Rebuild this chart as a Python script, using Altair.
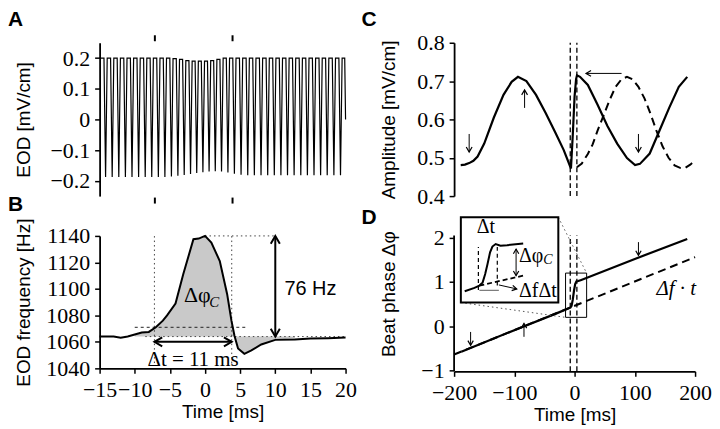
import altair as alt
import pandas as pd

SERIF = "Liberation Serif"
SANS = "Liberation Sans"

# ---------------- Panel A: EOD waveform (trough times in ms, trough / top values in mV/cm) ----------------
A_TROUGH_T = [-14.15, -13.21, -12.27, -11.33, -10.39, -9.45, -8.51, -7.58, -6.64, -5.71,
              -4.78, -3.86, -2.96, -2.06, -1.18, -0.30, 0.58, 1.46, 2.35, 3.26,
              4.18, 5.13, 6.08, 7.02, 7.97, 8.92, 9.86, 10.80, 11.74, 12.68,
              13.63, 14.57, 15.51, 16.45, 17.39, 18.34, 19.28]
A_TROUGH_V = [-0.188, -0.188, -0.188, -0.188, -0.188, -0.188, -0.188, -0.188, -0.188, -0.188,
              -0.186, -0.184, -0.181, -0.178, -0.175, -0.172, -0.170, -0.169, -0.170, -0.173,
              -0.177, -0.180, -0.182, -0.182, -0.182, -0.182, -0.182, -0.182, -0.182, -0.182,
              -0.182, -0.182, -0.182, -0.182, -0.182, -0.182, -0.182]
A_TOP_V = [0.200, 0.200, 0.200, 0.200, 0.200, 0.200, 0.200, 0.200, 0.200, 0.200,
           0.198, 0.196, 0.192, 0.190, 0.190, 0.190, 0.192, 0.196, 0.200, 0.200,
           0.200, 0.200, 0.200, 0.200, 0.200, 0.200, 0.200, 0.200, 0.200, 0.200,
           0.200, 0.200, 0.200, 0.200, 0.200, 0.200, 0.200]
A_START = (-15.0, 0.200)
A_END = (20.0, 0.0)
A_TICK_T = [-7.2, 3.8]
A_YTICKS = [-0.2, -0.1, 0, 0.1, 0.2]

# ---------------- Panel B: EOD frequency ----------------
B_T = [-15, -13, -12, -11, -10, -9, -8, -7, -6, -5.4, -4.2, -3.1, -1.65, -0.9, 0, 0.9, 2.1,
       3.15, 3.76, 4.2, 4.7, 5.6, 6.6, 8, 10, 12.8, 15, 17.5, 20]
B_F = [1064, 1064, 1063.2, 1064, 1065.5, 1067, 1067.5, 1071, 1076, 1080, 1089, 1111, 1137.5,
       1138, 1140, 1135, 1121, 1096, 1076, 1064.5, 1055, 1051, 1053.5, 1058, 1061.5, 1061.7,
       1062.5, 1062.8, 1063.3]
B_BASE = 1064
B_XTICKS = [-15, -10, -5, 0, 5, 10, 15, 20]
B_YTICKS = [1040, 1060, 1080, 1100, 1120, 1140]
B_DOTTED = {"x": [-7.2, 3.8, 0, -8.5], "x2": [-7.2, 3.8, 10, 20],
            "y": [1044, 1044, 1140, 1064], "y2": [1140, 1140, 1140, 1064]}
B_DASHED = {"x": [-10], "x2": [6], "y": [1071], "y2": [1071]}
B_ARROWS = {"x": [10, -7.2], "x2": [10, 3.8], "y": [1064.5, 1060], "y2": [1139.5, 1060]}
B_HEADS = {"x": [10, 10, -7.2, 3.8], "y": [1140, 1064, 1060, 1060], "dir": ["up", "down", "left", "right"]}

# ---------------- Panel C: amplitude ----------------
C_T = [-189, -182, -175, -168, -161, -150, -134, -118, -104.5, -94, -80, -64, -48, -32, -18, -6,
       -3, 0, 2.5, 4, 9, 22, 38, 54.5, 70.7, 87, 100.4, 108.5, 124.7, 141, 157, 173, 187]
C_A = [0.481, 0.482, 0.486, 0.492, 0.503, 0.537, 0.605, 0.664, 0.698, 0.711, 0.700, 0.664,
       0.617, 0.566, 0.520, 0.472, 0.560, 0.660, 0.705, 0.715, 0.711, 0.690, 0.639, 0.583,
       0.537, 0.499, 0.481, 0.484, 0.511, 0.571, 0.630, 0.685, 0.711]
C2_T = [3.8, 12, 22, 30, 38, 48, 58, 68, 78, 87, 96, 106, 116, 126, 136, 146, 156, 166, 176,
        184, 192, 198]
C2_A = [0.475, 0.485, 0.510, 0.535, 0.570, 0.610, 0.650, 0.685, 0.705, 0.711, 0.705, 0.685,
        0.655, 0.615, 0.570, 0.530, 0.500, 0.480, 0.473, 0.474, 0.482, 0.490]
C_YTICKS = [0.4, 0.5, 0.6, 0.7, 0.8]
C_VLINES = {"x": [-7.2, 3.8], "x2": [-7.2, 3.8], "y": [0.4, 0.4], "y2": [0.8, 0.8]}
C_ARROWS = {"x": [-175, -83, 106, 78], "x2": [-175, -83, 106, 19],
            "y": [0.562, 0.630, 0.562, 0.720], "y2": [0.515, 0.677, 0.515, 0.720]}
C_HEADS = {"x": [-175, -83, 106, 19], "y": [0.515, 0.677, 0.515, 0.720],
           "dir": ["down", "up", "down", "left"]}

# ---------------- Panel D: beat phase ----------------
D_DASH_T = [-200, 200]
D_DASH_P = [-0.64, 1.56]
D_T = [-188, -100, -30, -7, -5, -3, -1, 1, 3, 6, 10, 100, 187]
D_P = [-0.575, -0.09, 0.29, 0.42, 0.46, 0.60, 0.80, 0.95, 1.01, 1.02, 1.04, 1.52, 1.97]
D_XTICKS = [-200, -100, 0, 100, 200]
D_YTICKS = [-1, 0, 1, 2]
D_VDASH = {"x": [-7.2, 3.8], "x2": [-7.2, 3.8], "y": [-1.02, -1.02], "y2": [2.05, 2.05]}
D_AXISLINE = {"x": [-200], "x2": [-200], "y": [-1.02], "y2": [2.05]}
D_BOX = {"x": [-15], "x2": [20], "y": [0.2], "y2": [1.2]}
D_CONNECT = {"x": [-27, -188.8], "x2": [20, -15], "y": [2.46, 0.534], "y2": [1.2, 0.2]}
D_INSET = {"x": [-188.8], "x2": [-27], "y": [0.534], "y2": [2.46]}
IN_T = [-182.4, -166.2, -158.1, -152.6, -148.4, -144.5, -140.3, -136.4, -131, -123, -112.1, -85.3]
IN_P = [0.79, 0.865, 0.917, 0.99, 1.18, 1.405, 1.67, 1.80, 1.856, 1.82, 1.83, 1.87]
IN_DASH = {"x": [-158.1], "x2": [-85.3], "y": [0.917], "y2": [1.142]}
IN_VLINES = {"x": [-159.7, -128.3], "x2": [-159.7, -128.3], "y": [0.82, 0.917], "y2": [1.79, 1.79]}
IN_GRAY = {"x": [-158], "x2": [-125.7], "y": [0.81], "y2": [0.81]}
D_ARROWS = {"x": [-172.6, -84, 106, -97.1, -125.7], "x2": [-172.6, -84, 106, -97.1, -96],
            "y": [-0.13, -0.24, 1.9, 1.743, 0.932], "y2": [-0.43, 0.06, 1.6, 1.142, 0.842]}
D_HEADS = {"x": [-172.6, -84, 106, -97.1, -97.1, -96], "y": [-0.43, 0.06, 1.6, 1.743, 1.142, 0.842],
           "dir": ["down", "up", "down", "up", "down", "right"], "ang": [0, 0, 0, 0, 0, 12]}

# ---------------- layout sizes ----------------
A_W, A_H, B_H = 247, 154, 133
C_W, C_H, D_H = 242, 154, 156
A_XD, A_YD, B_YD = [-15, 20], [-0.25, 0.25], [1040, 1140]
C_XD, C_YD, D_YD = [-200, 200], [0.4, 0.8], [-1.02, 2.49]

HEAD_PATH = {"up": "M-0.7,1.2L0,0L0.7,1.2", "down": "M-0.7,-1.2L0,0L0.7,-1.2",
             "left": "M1.2,-0.7L0,0L1.2,0.7", "right": "M-1.2,-0.7L0,0L-1.2,0.7"}

LBL = dict(labelFont=SERIF, labelFontSize=22, labelColor="black", labelOverlap=False,
           titleFont=SANS, titleFontSize=19, titleFontWeight="normal", titleColor="black")

AX_A_Y = alt.Axis(values=A_YTICKS, title="EOD [mV/cm]", titleX=-66,
                  labelExpr="datum.value == 0 ? '0' : format(datum.value, '.1f')", **LBL)
AX_B_X = alt.Axis(values=B_XTICKS, format="d", title="Time [ms]", labelFlush=False, labelPadding=6,
                  titleY=34, **LBL)
AX_B_Y = alt.Axis(values=B_YTICKS, format="d", title="EOD frequency [Hz]", titleX=-66, **LBL)
AX_C_Y = alt.Axis(values=C_YTICKS, format=".1f", title="Amplitude [mV/cm]", titleX=-56, **LBL)
AX_D_X = alt.Axis(values=D_XTICKS, format="d", title="Time [ms]", labelFlush=False, labelPadding=6,
                  titleY=34, **LBL)
AX_D_Y = alt.Axis(values=D_YTICKS, format="d", title="Beat phase Δφ", titleX=-56, domain=False, **LBL)


class Frame:
    def __init__(self, xd, yd, xa=None, ya=None):
        self.xd, self.yd, self.xa, self.ya = xd, yd, xa, ya

    def x(self, field):
        return alt.X(field, type="quantitative", scale=alt.Scale(domain=self.xd, nice=False, zero=False),
                     axis=self.xa)

    def y(self, field):
        return alt.Y(field, type="quantitative", scale=alt.Scale(domain=self.yd, nice=False, zero=False),
                     axis=self.ya)

    def line(self, t, v, **style):
        return alt.Chart(pd.DataFrame({"t": t, "v": v})).mark_line(color="black", **style).encode(
            x=self.x("t"), y=self.y("v"))

    def rules(self, d, **style):
        return alt.Chart(pd.DataFrame(d)).mark_rule(**style).encode(
            x=self.x("x"), x2="x2:Q", y=self.y("y"), y2="y2:Q")

    def rect(self, d, **style):
        return alt.Chart(pd.DataFrame(d)).mark_rect(**style).encode(
            x=self.x("x"), x2="x2:Q", y=self.y("y"), y2="y2:Q")

    def heads(self, d, size, width):
        df = pd.DataFrame(d)
        df["shape"] = [HEAD_PATH[k] for k in df["dir"]]
        if "ang" not in df:
            df["ang"] = 0
        return alt.Chart(df).mark_point(filled=False, color="black", strokeWidth=width, size=size,
                                        opacity=1).encode(
            x=self.x("x"), y=self.y("y"), shape=alt.Shape("shape:N", scale=None),
            angle=alt.Angle("ang:Q", scale=None))

    def text(self, s, x, y, **style):
        df = pd.DataFrame({"x": [x], "y": [y], "s": [s]})
        return alt.Chart(df).mark_text(color="black", **style).encode(
            x=self.x("x"), y=self.y("y"), text="s:N")


def letter(ch, px, py):
    df = pd.DataFrame({"s": [ch]})
    return alt.Chart(df).mark_text(font=SANS, fontSize=21, fontWeight="bold", align="left",
                                   baseline="top", color="black").encode(
        text="s:N", x=alt.value(px), y=alt.value(py))


# ---------------- Panel A ----------------
HALF = 0.23
at, av = [A_START[0]], [A_START[1]]
prev = A_START[1]
for tt, tv, top in zip(A_TROUGH_T, A_TROUGH_V, A_TOP_V):
    at += [tt - HALF, tt, tt + HALF]
    av += [prev, tv, top]
    prev = top
at += [A_TROUGH_T[-1] + 0.6, A_END[0]]
av += [prev, A_END[1]]

fa_bottom = Frame(A_XD, A_YD, alt.Axis(orient="bottom", values=A_TICK_T, labels=False, domain=False,
                                       tickSize=6, tickWidth=2, offset=1, title=None), AX_A_Y)
fa_top = Frame(A_XD, A_YD, alt.Axis(orient="top", values=A_TICK_T, labels=False, domain=False,
                                    tickSize=6, tickWidth=2, offset=2, title=None), AX_A_Y)
a_line = fa_bottom.line(at, av, strokeWidth=1.2)
a_top = alt.Chart(pd.DataFrame({"t": A_TICK_T})).mark_point(opacity=0).encode(x=fa_top.x("t"))
panel_a = alt.layer(a_line, a_top, letter("A", -92, -33.5), letter("B", -92, 152)).resolve_axis(
    x="independent").properties(width=A_W, height=A_H)

# ---------------- Panel B ----------------
fb = Frame(A_XD, B_YD, AX_B_X, AX_B_Y)
b_df = pd.DataFrame({"t": B_T, "f": B_F})
b_fill = b_df[(b_df["t"] >= -10) & (b_df["t"] <= 12.8)].copy()
b_fill["base"] = B_BASE
b_area = alt.Chart(b_fill).mark_area(color="#c9c9c9").encode(x=fb.x("t"), y=fb.y("f"), y2="base:Q")
panel_b = alt.layer(
    b_area,
    fb.rules(B_DOTTED, color="#444444", strokeWidth=1, strokeDash=[1.5, 3]),
    fb.rules(B_DASHED, color="#222222", strokeWidth=1, strokeDash=[3, 3]),
    fb.line(B_T, B_F, strokeWidth=2),
    fb.rules(B_ARROWS, color="black", strokeWidth=2),
    fb.heads(B_HEADS, 170, 2),
    fb.text("76 Hz", 11.3, 1100, font=SANS, fontSize=20, align="left", baseline="middle"),
    fb.text("Δφ", -3.0, 1095, font=SERIF, fontSize=22, align="left", baseline="middle"),
    fb.text("C", 0.6, 1090, font=SERIF, fontSize=15, fontStyle="italic", align="left", baseline="middle"),
    fb.text("Δt = 11 ms", -1.7, 1046, font=SERIF, fontSize=21, align="center", baseline="middle"),
).properties(width=A_W, height=B_H)

# ---------------- Panel C ----------------
fc = Frame(C_XD, C_YD, None, AX_C_Y)
panel_c = alt.layer(
    fc.rules(C_VLINES, color="black", strokeWidth=1.3, strokeDash=[5, 3]),
    fc.line(C2_T, C2_A, strokeWidth=2, strokeDash=[8, 5]),
    fc.line(C_T, C_A, strokeWidth=2.2),
    fc.rules(C_ARROWS, color="black", strokeWidth=1),
    fc.heads(C_HEADS, 70, 1.2),
    letter("C", -93, -33.5),
).properties(width=C_W, height=C_H)

# ---------------- Panel D ----------------
fd = Frame(C_XD, D_YD, AX_D_X, AX_D_Y)
panel_d = alt.layer(
    fd.rules(D_AXISLINE, color="black", strokeWidth=1.8),
    fd.line(D_DASH_T, D_DASH_P, strokeWidth=2, strokeDash=[8, 5]),
    fd.line(D_T, D_P, strokeWidth=2.2),
    fd.rules(D_VDASH, color="black", strokeWidth=1.3, strokeDash=[5, 3]),
    fd.rect(D_BOX, fillOpacity=0, stroke="black", strokeWidth=1),
    fd.rules(D_CONNECT, color="#555555", strokeWidth=1, strokeDash=[1.5, 3]),
    fd.rect(D_INSET, fill="white", stroke="black", strokeWidth=2),
    fd.rules(IN_VLINES, color="black", strokeWidth=1.2, strokeDash=[4, 3]),
    fd.rules(IN_DASH, color="black", strokeWidth=1.8, strokeDash=[5, 3]),
    fd.rules(IN_GRAY, color="#777777", strokeWidth=1.2),
    fd.line(IN_T, IN_P, strokeWidth=2),
    fd.rules(D_ARROWS, color="black", strokeWidth=1),
    fd.heads(D_HEADS, 60, 1.2),
    fd.text("Δt", -147.2, 2.24, font=SERIF, fontSize=20, align="center", baseline="middle"),
    fd.text("Δφ", -92.2, 1.58, font=SERIF, fontSize=20, align="left", baseline="middle"),
    fd.text("C", -52, 1.50, font=SERIF, fontSize=14, fontStyle="italic", align="left", baseline="middle"),
    fd.text("ΔfΔt", -92.2, 0.80, font=SERIF, fontSize=20, align="left", baseline="middle"),
    fd.text("Δf · t", 136, 0.85, font=SERIF, fontSize=21, fontStyle="italic", align="left",
            baseline="middle"),
    letter("D", -93, -8.5),
).properties(width=C_W, height=D_H)

left = alt.vconcat(panel_a, panel_b, spacing=3)
right = alt.vconcat(panel_c, panel_d, spacing=0)
chart = alt.hconcat(left, right, spacing=5).properties(
    padding={"left": 0, "top": 0, "right": 0, "bottom": 0}
).configure(font=SERIF).configure_view(stroke=None).configure_axis(
    domainColor="black", domainWidth=1.8, tickColor="black", tickWidth=1.5, tickSize=5,
    labelPadding=5, grid=False, labelFont=SERIF, titleFont=SANS,
)

chart.save("out.html", embed_options={"renderer": "svg", "actions": False})
